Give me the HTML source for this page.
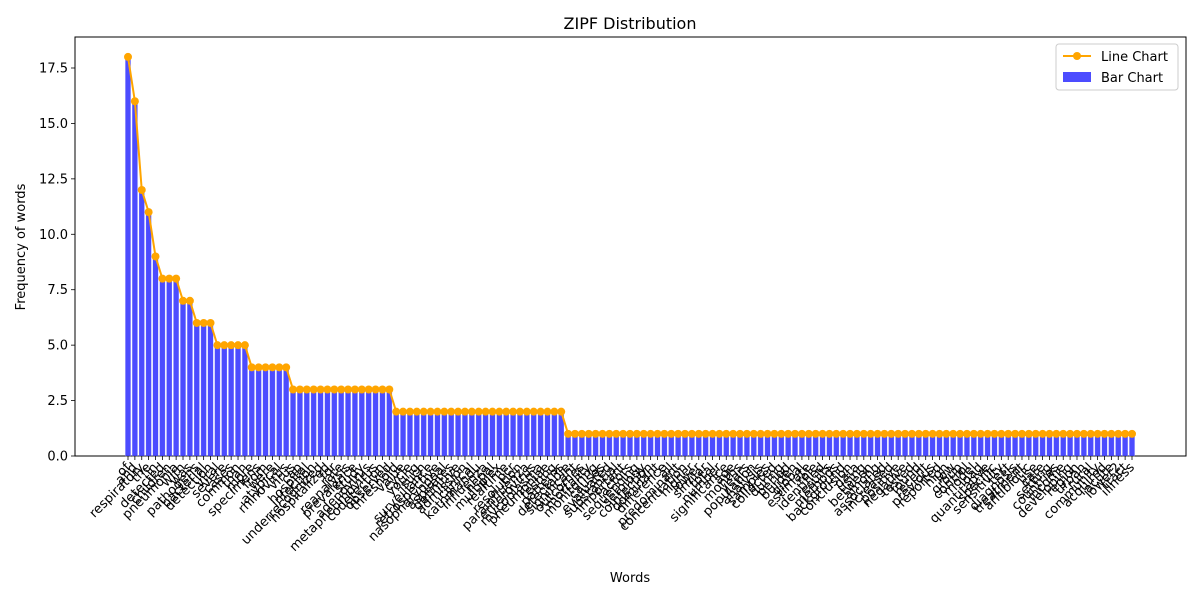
<!DOCTYPE html>
<html><head><meta charset="utf-8"><style>
body{margin:0;background:#fff}
svg{font-family:"DejaVu Sans","Liberation Sans",sans-serif}
</style></head><body>
<svg id="chart" width="1200" height="600"></svg>
<script>
const words=["of","and","respiratory","the","in","detected","children","pneumonia","with","was","pathogens","bacterial","detection","viral","severe","cases","common","than","more","specimens","from","were","atypical","rhinovirus","virus","cap","hospital","infection","underrecognized","hospitalized","for","rate","reanalysis","prevalence","study","adenovirus","metapneumovirus","codetection","observed","threshold","value","cycle","young","such","surveillance","retrospective","nasopharyngeal","aspirates","definitive","admission","clinical","kathmandu","influenza","nepal","multiplex","realtime","pcr","resolution","parainfluenza","enterovirus","mycoplasma","pneumoniae","testing","patterns","detectable","significant","outcomes","mortality","monitoring","causes","evaluated","substantial","important","factors","sequencing","serology","coinfection","dominant","difference","all","predominant","concentration","higher","lower","similar","total","number","significance","age","months","years","population","analysis","samples","collected","during","period","burden","global","estimate","role","identified","results","methods","background","conclusion","data","using","between","among","associated","increased","positive","negative","tested","found","recent","previous","reported","high","low","group","control","model","load","quantitative","specific","sensitivity","test","diagnosis","treatment","antibiotic","use","care","setting","countries","income","developing","region","urban","rural","community","acquired","acute","lower2","tract","illness","fever","cough","symptom","sign","chest","radiograph","findings"];
const freqs=[18,16,12,11,9,8,8,8,7,7,6,6,6,5,5,5,5,5,4,4,4,4,4,4,3,3,3,3,3,3,3,3,3,3,3,3,3,3,3,2,2,2,2,2,2,2,2,2,2,2,2,2,2,2,2,2,2,2,2,2,2,2,2,2,1,1,1,1,1,1,1,1,1,1,1,1,1,1,1,1,1,1,1,1,1,1,1,1,1,1,1,1,1,1,1,1,1,1,1,1,1,1,1,1,1,1,1,1,1,1,1,1,1,1,1,1,1,1,1,1,1,1,1,1,1,1,1,1,1,1,1,1,1,1,1,1,1,1,1,1,1,1,1,1,1,1,1];
const yTicks=[0,2.5,5,7.5,10,12.5,15,17.5];

const NS="http://www.w3.org/2000/svg";
const svg=document.getElementById('chart');
const L=75,R=1186,T=37,B=456;
const n=freqs.length;
const x0=128,x1=1132;
function xs(i){return x0+(x1-x0)*i/(n-1);}
function ys(v){return B-(B-68)*v/17.5;}
function mk(tag,attrs,parent){const e=document.createElementNS(NS,tag);for(const k in attrs)e.setAttribute(k,attrs[k]);(parent||svg).appendChild(e);return e;}

const frame=mk('rect',{x:L,y:T,width:R-L,height:B-T,fill:'none',stroke:'#000','stroke-width':1});



const bw=(x1-x0)/(n-1)*0.8;
for(let i=0;i<n;i++){
  const b=mk('rect',{x:xs(i)-bw/2,y:ys(freqs[i]),width:bw,height:B-ys(freqs[i]),fill:'rgba(0,0,255,0.7)',stroke:'rgba(255,255,255,0.4)','stroke-width':0.5});
  
  
  mk('line',{x1:xs(i),x2:xs(i),y1:B,y2:B+4,stroke:'#000','stroke-width':0.8});
  const t=mk('text',{x:xs(i)+3,y:B+12,'font-size':13,'text-anchor':'end',transform:'rotate(-45 '+(xs(i)+3)+' '+(B+12)+')'});
  t.textContent=words[i]||'word';
  
  
}
let d='';
for(let i=0;i<n;i++)d+=(i?'L':'M')+xs(i)+' '+ys(freqs[i]);
const line=mk('path',{d:d,fill:'none',stroke:'orange','stroke-width':2});


for(let i=0;i<n;i++){
  const c=mk('circle',{cx:xs(i),cy:ys(freqs[i]),r:4,fill:'orange'});
  
  
}
for(const v of yTicks){
  mk('line',{x1:L-4,x2:L,y1:ys(v),y2:ys(v),stroke:'#000','stroke-width':0.8});
  const t=mk('text',{x:L-7,y:ys(v)+4.5,'font-size':13,'text-anchor':'end'});
  t.textContent=v.toFixed(1);
  
  
}
const title=mk('text',{x:630,y:29,'font-size':16,'text-anchor':'middle'});title.textContent='ZIPF Distribution';


const xl=mk('text',{x:630,y:582,'font-size':13,'text-anchor':'middle'});xl.textContent='Words';


const yl=mk('text',{x:25,y:247,'font-size':13,'text-anchor':'middle',transform:'rotate(-90 25 247)'});yl.textContent='Frequency of words';



const lg=mk('g',{});


mk('rect',{x:1056,y:44,width:122,height:46,rx:3,fill:'#fff',stroke:'#ccc'},lg);
mk('line',{x1:1063,x2:1091,y1:56,y2:56,stroke:'orange','stroke-width':2},lg);
mk('circle',{cx:1077,cy:56,r:4,fill:'orange'},lg);
const t1=mk('text',{x:1101,y:61,'font-size':13},lg);t1.textContent='Line Chart';


mk('rect',{x:1063,y:72,width:28,height:10,fill:'rgba(0,0,255,0.7)'},lg);
const t2=mk('text',{x:1101,y:82,'font-size':13},lg);t2.textContent='Bar Chart';


</script>
</body></html>
